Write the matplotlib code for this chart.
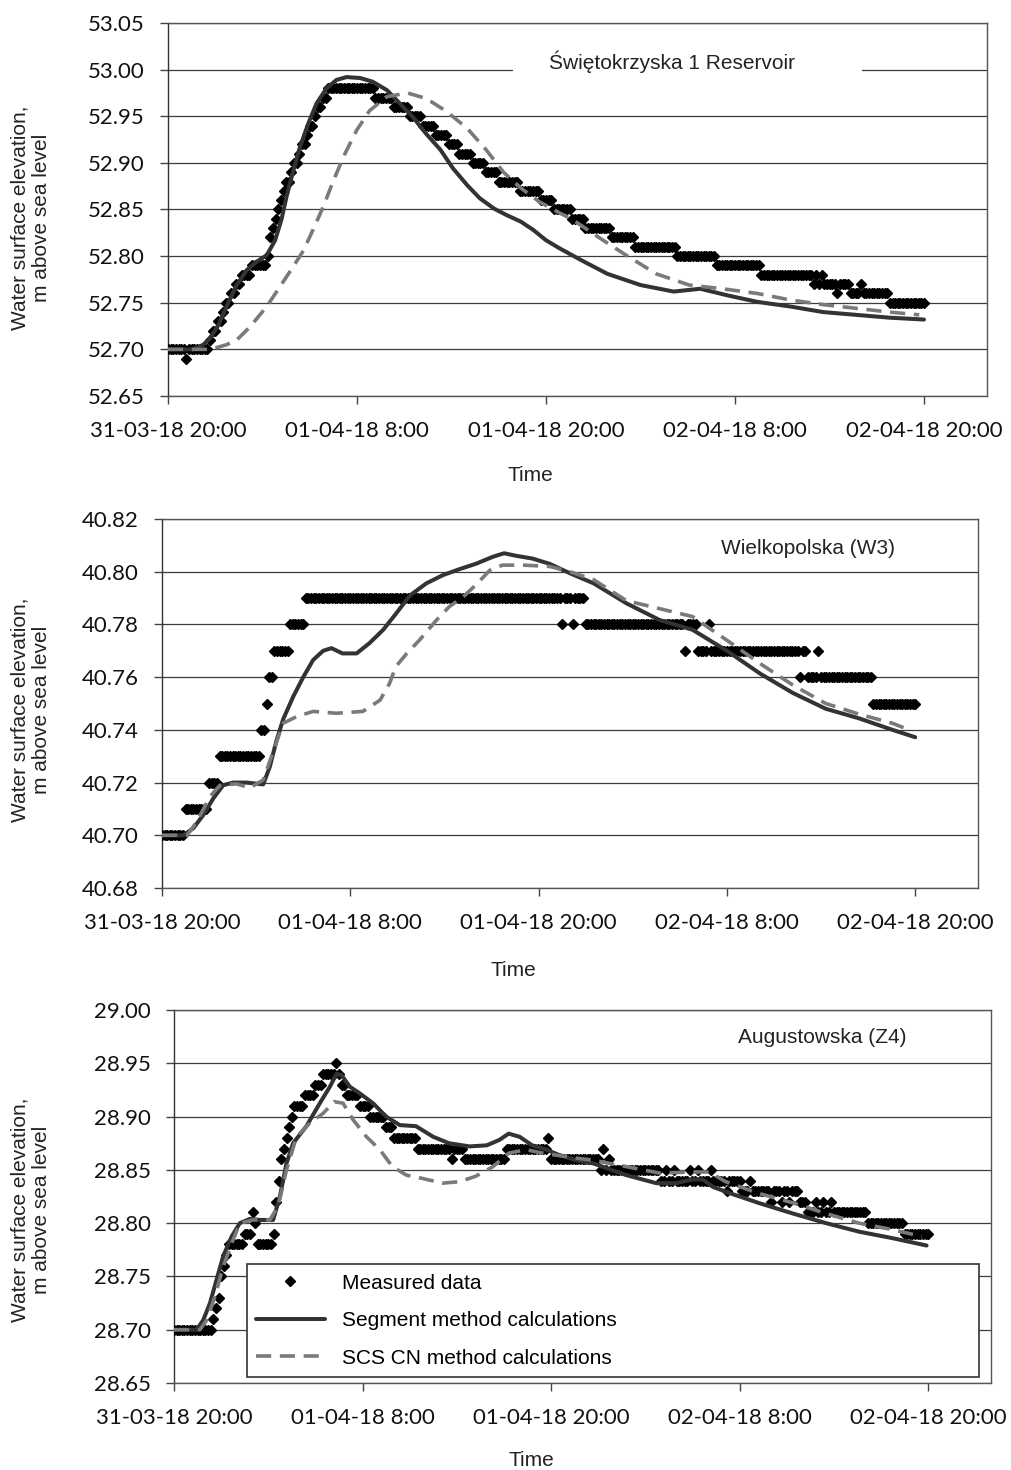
import numpy as np
import matplotlib
matplotlib.use("Agg")
import matplotlib.pyplot as plt
from matplotlib.patches import Rectangle

plt.rcParams['font.family'] = ['Liberation Sans', 'DejaVu Sans']

# x axis: hours after 31-03-18 20:00
x_ticks = [0, 12, 24, 36, 48]
x_tick_labels = ["31-03-18 20:00", "01-04-18 8:00", "01-04-18 20:00",
                 "02-04-18 8:00", "02-04-18 20:00"]

# ---------------- Świętokrzyska 1 Reservoir ----------------
# measured data (10-min readings), stored as levels and run lengths
p1_meas_levels = [52.70, 52.69, 52.70, 52.71, 52.72, 52.73, 52.74, 52.75, 52.76, 52.77,
                  52.78, 52.79, 52.80, 52.82, 52.83, 52.84, 52.85, 52.86, 52.87, 52.88,
                  52.89, 52.90, 52.91, 52.92, 52.93, 52.94, 52.95, 52.96, 52.97, 52.98,
                  52.97, 52.96, 52.95, 52.94, 52.93, 52.92, 52.91, 52.90, 52.89, 52.88,
                  52.87, 52.86, 52.85, 52.84, 52.83, 52.82, 52.81, 52.80, 52.79, 52.78,
                  52.77, 52.78, 52.77, 52.78, 52.77, 52.76, 52.77, 52.76, 52.77, 52.76,
                  52.75]
p1_meas_counts = [7, 1, 8, 1, 2, 2, 1, 2, 2, 2,
                  4, 6, 1, 1, 1, 1, 1, 1, 1, 2,
                  1, 2, 1, 2, 1, 2, 1, 2, 2, 18,
                  7, 6, 5, 5, 5, 4, 5, 5, 5, 8,
                  8, 5, 7, 5, 10, 9, 16, 15, 17, 20,
                  1, 1, 1, 1, 5, 1, 4, 4, 1, 10,
                  14]
p1_seg_h = [0, 1.6, 2.24, 2.67, 3.2, 3.72, 4.36, 5.0, 5.63, 6.27, 6.8, 7.2, 7.53, 7.96,
            8.38, 8.9, 9.44, 10.07, 10.7, 11.34, 12.2, 13.0, 13.9, 14.7, 15.6, 16.4,
            17.3, 18.1, 19.0, 19.8, 20.7, 21.5, 22.4, 23.2, 24.0, 24.9, 26.2, 27.9,
            30.0, 32.1, 33.8, 35.5, 37.4, 39.5, 41.6, 43.7, 45.8, 48.0]
p1_seg_v = [52.700, 52.700, 52.705, 52.712, 52.726, 52.746, 52.769, 52.785, 52.794,
            52.801, 52.817, 52.839, 52.864, 52.892, 52.917, 52.942, 52.964, 52.980,
            52.989, 52.992, 52.991, 52.987, 52.978, 52.964, 52.948, 52.931, 52.914,
            52.894, 52.876, 52.862, 52.851, 52.844, 52.837, 52.828, 52.817, 52.808,
            52.796, 52.781, 52.769, 52.762, 52.765, 52.758, 52.751, 52.746, 52.740,
            52.737, 52.734, 52.732]
p1_scs_h = [0, 2.7, 3.72, 4.36, 5.2, 6.27, 7.1, 7.96, 8.6, 9.2, 9.86, 10.5, 11.24,
            11.98, 12.8, 13.9, 15.2, 16.4, 17.7, 19.0, 20.2, 21.3, 22.4, 23.6, 24.9,
            25.7, 27.0, 28.9, 31.0, 33.1, 35.2, 37.4, 39.5, 41.6, 43.7, 45.8, 47.7]
p1_scs_v = [52.700, 52.700, 52.705, 52.710, 52.724, 52.746, 52.767, 52.789, 52.806,
            52.828, 52.853, 52.881, 52.910, 52.935, 52.956, 52.971, 52.975, 52.969,
            52.955, 52.937, 52.914, 52.890, 52.873, 52.858, 52.846, 52.839, 52.824,
            52.803, 52.781, 52.769, 52.765, 52.760, 52.753, 52.748, 52.744, 52.740,
            52.737]

# ---------------- Wielkopolska (W3) ----------------
p2_meas_levels = [40.70, 40.71, 40.72, 40.73, 40.74, 40.75, 40.76, 40.77, 40.78, 40.79,
                  40.78, 40.79, 40.78, 40.79, 40.78, 40.77, 40.78, 40.77, 40.78, 40.77,
                  40.76, 40.77, 40.76, 40.77, 40.76, 40.75]
p2_meas_counts = [9, 9, 4, 16, 2, 1, 2, 6, 6, 98,
                  1, 3, 1, 4, 38, 1, 4, 4, 1, 34,
                  1, 2, 4, 1, 20, 17]
p2_seg_h = [0, 1.36, 2.0, 2.63, 3.27, 3.9, 4.54, 5.39, 6.45, 6.87, 7.3, 7.72, 8.36,
            9.0, 9.63, 10.27, 10.8, 11.5, 12.4, 13.24, 14.1, 14.9, 15.8, 16.85, 17.9,
            18.97, 20.0, 21.1, 21.8, 22.6, 23.6, 24.7, 26.0, 27.5, 29.6, 31.7, 33.8,
            36.0, 38.1, 40.2, 42.3, 44.4, 46.55, 48.0]
p2_seg_v = [40.700, 40.700, 40.7027, 40.7077, 40.714, 40.719, 40.720, 40.720, 40.7193,
            40.726, 40.736, 40.744, 40.7526, 40.760, 40.7665, 40.770, 40.771, 40.769,
            40.769, 40.773, 40.778, 40.784, 40.791, 40.7956, 40.7987, 40.801, 40.803,
            40.8057, 40.807, 40.806, 40.805, 40.803, 40.7994, 40.7956, 40.788, 40.7817,
            40.778, 40.770, 40.7614, 40.754, 40.748, 40.7444, 40.740, 40.7372]
p2_scs_h = [0, 1.6, 2.2, 3.06, 3.7, 4.75, 5.6, 6.45, 7.1, 7.72, 8.57, 9.63, 11.1,
            12.8, 13.9, 14.5, 14.9, 15.6, 16.4, 17.5, 18.3, 19.2, 20.0, 20.9, 21.7,
            23.0, 24.7, 26.0, 27.5, 29.6, 31.7, 33.8, 36.0, 38.1, 40.2, 42.3, 44.4,
            46.55, 47.6]
p2_scs_v = [40.700, 40.700, 40.705, 40.7147, 40.719, 40.7195, 40.718, 40.721, 40.732,
            40.7425, 40.745, 40.747, 40.7463, 40.747, 40.7513, 40.7576, 40.764, 40.769,
            40.774, 40.7817, 40.7867, 40.7905, 40.795, 40.8006, 40.8025, 40.8025,
            40.802, 40.800, 40.797, 40.789, 40.786, 40.783, 40.774, 40.7652, 40.757,
            40.750, 40.746, 40.7425, 40.740]

# ---------------- Augustowska (Z4) ----------------
p3_meas_levels = [28.70, 28.71, 28.72, 28.73, 28.75, 28.76, 28.77, 28.78, 28.79, 28.81,
                  28.80, 28.78, 28.79, 28.82, 28.84, 28.86, 28.87, 28.88, 28.89, 28.90,
                  28.91, 28.92, 28.93, 28.94, 28.95, 28.94, 28.93, 28.92, 28.91, 28.90,
                  28.89, 28.88, 28.87, 28.86, 28.87, 28.86, 28.87, 28.88, 28.86, 28.85,
                  28.87, 28.85, 28.86, 28.85, 28.84, 28.85, 28.84, 28.85, 28.84, 28.85,
                  28.84, 28.85, 28.84, 28.85, 28.84, 28.83, 28.84, 28.83, 28.84, 28.83,
                  28.82, 28.83, 28.82, 28.83, 28.82, 28.83, 28.82, 28.81, 28.82, 28.81,
                  28.82, 28.81, 28.82, 28.81, 28.80, 28.79]
p3_meas_counts = [15, 1, 1, 1, 1, 1, 1, 6, 3, 1,
                  1, 6, 1, 1, 1, 1, 1, 1, 1, 1,
                  4, 4, 3, 5, 1, 1, 2, 5, 4, 6,
                  3, 9, 13, 1, 4, 16, 16, 1, 19, 1,
                  1, 1, 1, 19, 2, 1, 2, 1, 5, 1,
                  2, 1, 4, 1, 5, 1, 5, 3, 1, 7,
                  1, 3, 1, 2, 1, 3, 3, 3, 1, 2,
                  1, 2, 1, 13, 14, 10]
p3_seg_h = [0, 1.44, 1.86, 2.29, 2.71, 3.13, 3.67, 4.19, 4.83, 5.47, 6.31, 6.74, 7.16,
            7.58, 8.43, 9.28, 9.92, 10.34, 10.66, 11.19, 11.8, 12.67, 13.5, 14.37, 15.4,
            16.5, 17.5, 18.8, 19.9, 20.7, 21.3, 22.0, 22.8, 23.7, 24.5, 25.6, 26.7,
            28.8, 30.7, 31.96, 33.0, 33.65, 34.3, 35.6, 37.2, 39.4, 41.5, 43.6, 45.7,
            47.9]
p3_seg_v = [28.700, 28.700, 28.709, 28.725, 28.747, 28.769, 28.7875, 28.800, 28.804,
            28.803, 28.803, 28.825, 28.856, 28.875, 28.891, 28.9125, 28.928, 28.940,
            28.939, 28.928, 28.922, 28.9125, 28.900, 28.892, 28.891, 28.881, 28.875,
            28.872, 28.873, 28.878, 28.884, 28.881, 28.873, 28.869, 28.864, 28.859,
            28.856, 28.845, 28.8375, 28.8375, 28.841, 28.841, 28.834, 28.827, 28.819,
            28.809, 28.800, 28.792, 28.786, 28.779]
p3_scs_h = [0, 1.65, 2.08, 2.6, 3.13, 3.67, 4.19, 5.04, 6.1, 6.63, 7.16, 7.8, 8.65,
            9.49, 10.2, 10.76, 11.4, 12.25, 13.1, 13.9, 14.8, 15.8, 17.1, 18.2, 19.2,
            20.3, 21.3, 22.4, 23.5, 25.6, 26.7, 28.8, 30.9, 33.0, 34.07, 35.1, 37.2,
            39.4, 41.5, 43.6, 45.7, 47.6]
p3_scs_v = [28.700, 28.700, 28.709, 28.731, 28.759, 28.781, 28.800, 28.803, 28.803,
            28.816, 28.850, 28.881, 28.894, 28.903, 28.914, 28.9125, 28.897, 28.881,
            28.869, 28.853, 28.845, 28.842, 28.8375, 28.839, 28.844, 28.853, 28.8656,
            28.869, 28.8656, 28.861, 28.859, 28.853, 28.847, 28.848, 28.848, 28.839,
            28.828, 28.819, 28.809, 28.800, 28.794, 28.7875]

titles = ["Świętokrzyska 1 Reservoir", "Wielkopolska (W3)", "Augustowska (Z4)"]
y_ranges = [(52.65, 53.05, 0.05), (40.68, 40.82, 0.02), (28.65, 29.00, 0.05)]
legend_labels = ["Measured data", "Segment method calculations", "SCS CN method calculations"]

W, H = 1011, 1470
# plot areas in pixels: left, top, right, bottom
rects = [(168, 23, 987, 396), (162, 519, 978, 888), (174, 1010, 991, 1383)]
title_pos = [(0.615, 0.895), (0.792, 0.921), (0.794, 0.925)]
time_pos = [(530, 476), (513, 970), (531, 1460)]
ylab_pos = [(31, 218), (31, 710), (31, 1210)]

panels = [
    (p1_meas_levels, p1_meas_counts, p1_seg_h, p1_seg_v, p1_scs_h, p1_scs_v),
    (p2_meas_levels, p2_meas_counts, p2_seg_h, p2_seg_v, p2_scs_h, p2_scs_v),
    (p3_meas_levels, p3_meas_counts, p3_seg_h, p3_seg_v, p3_scs_h, p3_scs_v),
]

fig = plt.figure(figsize=(W / 100, H / 100), dpi=100)

for i, (lev, cnt, sh, sv, ch, cv) in enumerate(panels):
    l, t, r, b = rects[i]
    ax = fig.add_axes([l / W, 1 - b / H, (r - l) / W, (b - t) / H])

    meas = np.repeat(lev, cnt)
    meas_h = np.arange(len(meas)) / 6.0

    ax.plot(meas_h, meas, ls='none', marker='D', ms=4.8, color='black',
            label=legend_labels[0], zorder=3)
    ax.plot(sh, sv, color='#333333', lw=2.9, solid_capstyle='round',
            label=legend_labels[1], zorder=4)
    ax.plot(ch, cv, color='#7a7a7a', lw=2.6, dashes=(4.2, 2.4),
            label=legend_labels[2], zorder=5)

    lo, hi, st = y_ranges[i]
    yt = np.round(np.arange(lo, hi + st / 2, st), 2)
    ax.set_ylim(lo, hi)
    ax.set_yticks(yt)
    ax.set_yticklabels([f"{v:.2f}" for v in yt], fontfamily='Lato', fontsize=16)
    ax.set_xlim(0, 52)
    ax.set_xticks(x_ticks)
    ax.set_xticklabels(x_tick_labels, fontfamily='Lato', fontsize=16)

    ax.yaxis.grid(True, color='#3c3c3c', lw=0.9)
    ax.set_axisbelow(True)
    for s in ax.spines.values():
        s.set_color('#555555')
        s.set_linewidth(1.0)
    ax.spines['left'].set_color('#333333')
    ax.tick_params(axis='both', direction='out', length=5.8, width=1,
                   color='#444444', labelcolor='#111111')
    ax.tick_params(axis='y', pad=11)
    ax.tick_params(axis='x', pad=12)

    ax.text(title_pos[i][0], title_pos[i][1], titles[i], transform=ax.transAxes,
            ha='center', va='center', fontsize=15, color='#222222', zorder=7)
    if i == 0:
        ax.add_patch(Rectangle((0.421, 0.86), 0.426, 0.07, transform=ax.transAxes,
                               facecolor='white', edgecolor='none', zorder=2))

    fig.text(time_pos[i][0] / W, 1 - time_pos[i][1] / H, "Time", ha='center',
             va='center', fontsize=15, color='#222222')
    fig.text(ylab_pos[i][0] / W, 1 - ylab_pos[i][1] / H,
             "Water surface elevation,\nm above sea level", rotation=90,
             ha='center', va='center', ma='center', fontsize=15, color='#222222',
             linespacing=1.2)

    if i == 2:
        leg = ax.legend(loc='lower left', bbox_to_anchor=(0.0894, 0.016, 0.896, 0.303),
                        mode='expand', borderaxespad=0, fontsize=15, handlelength=3.27,
                        handletextpad=0.82, labelspacing=0.89, borderpad=0.45,
                        fancybox=False, framealpha=1, edgecolor='#333333')
        leg.get_frame().set_linewidth(1.2)
        leg.set_zorder(8)

fig.savefig("out.png", dpi=100, facecolor='white')
